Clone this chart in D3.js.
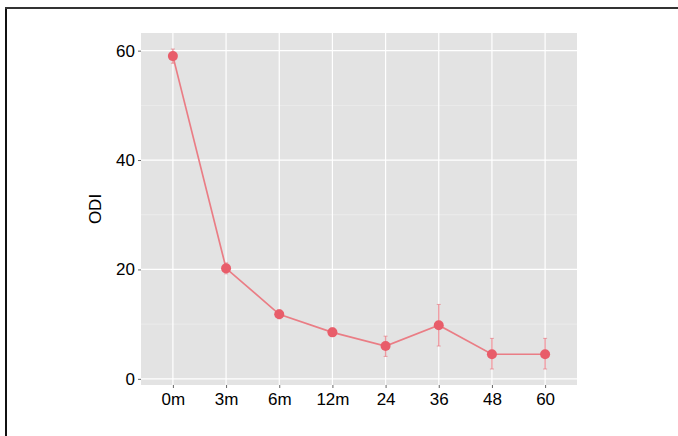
<!DOCTYPE html>
<html><head><meta charset="utf-8">
<script src="https://cdn.jsdelivr.net/npm/d3@7"></script>
<style>body{margin:0;background:#fff}svg{display:block}</style>
</head><body>
<script>
const times = ["0m","3m","6m","12m","24","36","48","60"];
const odi   = [59.0, 20.2, 11.8, 8.5, 6.0, 9.8, 4.5, 4.5];
const lower = [57.7, 19.2, 11.0, 7.8, 4.1, 6.0, 1.8, 1.8];
const upper = [60.3, 21.2, 12.6, 9.3, 7.8, 13.6, 7.4, 7.4];
const yTicks = [0, 20, 40, 60];
const yMinor = [10, 30, 50];

const W = 678, H = 436;
const FONT = "'Liberation Sans', Arial, sans-serif";
const svg = d3.select("body").append("svg").attr("width", W).attr("height", H);

// outer frame
svg.append("line").attr("x1",6).attr("x2",6).attr("y1",7).attr("y2",H).attr("stroke","#111").attr("stroke-width",2);
svg.append("line").attr("x1",5).attr("x2",W).attr("y1",8).attr("y2",8).attr("stroke","#333").attr("stroke-width",2);

const P = {l:141, r:577, t:33, b:385};
const x = d3.scalePoint().domain(times).range([P.l, P.r]).padding(0.6);
const lo = d3.min(lower), hi = d3.max(upper), ex = (hi-lo)*0.05;
const y = d3.scaleLinear().domain([lo-ex, hi+ex]).range([P.b, P.t]);

svg.append("rect").attr("x",P.l).attr("y",P.t).attr("width",P.r-P.l).attr("height",P.b-P.t).attr("fill","#e3e3e3");
const g = svg.append("g");
g.selectAll(".mn").data(yMinor).join("line")
  .attr("x1",P.l).attr("x2",P.r).attr("y1",d=>y(d)).attr("y2",d=>y(d)).attr("stroke","#f2f2f2").attr("stroke-width",0.6);
g.selectAll(".mj").data(yTicks).join("line")
  .attr("x1",P.l).attr("x2",P.r).attr("y1",d=>y(d)).attr("y2",d=>y(d)).attr("stroke","#fff").attr("stroke-width",1.2);
g.selectAll(".vx").data(times).join("line")
  .attr("x1",d=>x(d)).attr("x2",d=>x(d)).attr("y1",P.t).attr("y2",P.b).attr("stroke","#fff").attr("stroke-width",1.2);

// axes
const yAxis = svg.append("g").attr("transform",`translate(${P.l},0)`)
  .call(d3.axisLeft(y).tickValues(yTicks).tickSize(3).tickPadding(3));
const xAxis = svg.append("g").attr("transform",`translate(0,${P.b})`)
  .call(d3.axisBottom(x).tickSize(3).tickPadding(5));
[yAxis, xAxis].forEach(a => {
  a.attr("font-size", null).attr("font-family", null);
  a.select(".domain").remove();
  a.selectAll(".tick line").attr("stroke","#666");
  a.selectAll(".tick text").attr("fill","#000").style("font-family",FONT).style("font-size","17px");
});

svg.append("text").attr("transform",`translate(101,${(P.t+P.b)/2}) rotate(-90)`)
  .attr("text-anchor","middle").style("font-family",FONT).style("font-size","17px").text("ODI");

const data = times.map((t,i)=>({t, v:odi[i], lo:lower[i], hi:upper[i]}));
// error bars
svg.selectAll(".eb").data(data).join("line")
  .attr("x1",d=>x(d.t)).attr("x2",d=>x(d.t)).attr("y1",d=>y(d.lo)).attr("y2",d=>y(d.hi))
  .attr("stroke","#e8707a").attr("stroke-opacity",0.7).attr("stroke-width",1.4);
svg.selectAll(".ec").data(data).join("g").each(function(d){
  const s = d3.select(this);
  [d.lo, d.hi].forEach(v => s.append("line").attr("x1",x(d.t)-2).attr("x2",x(d.t)+2).attr("y1",y(v)).attr("y2",y(v))
    .attr("stroke","#e8707a").attr("stroke-opacity",0.6).attr("stroke-width",1));
});
// line
svg.append("path").datum(data)
  .attr("d", d3.line().x(d=>x(d.t)).y(d=>y(d.v)))
  .attr("fill","none").attr("stroke","#ea7d85").attr("stroke-width",1.7);
// points
svg.selectAll(".pt").data(data).join("circle")
  .attr("cx",d=>x(d.t)).attr("cy",d=>y(d.v)).attr("r",5).attr("fill","#e85d6a");
</script>
</body></html>
